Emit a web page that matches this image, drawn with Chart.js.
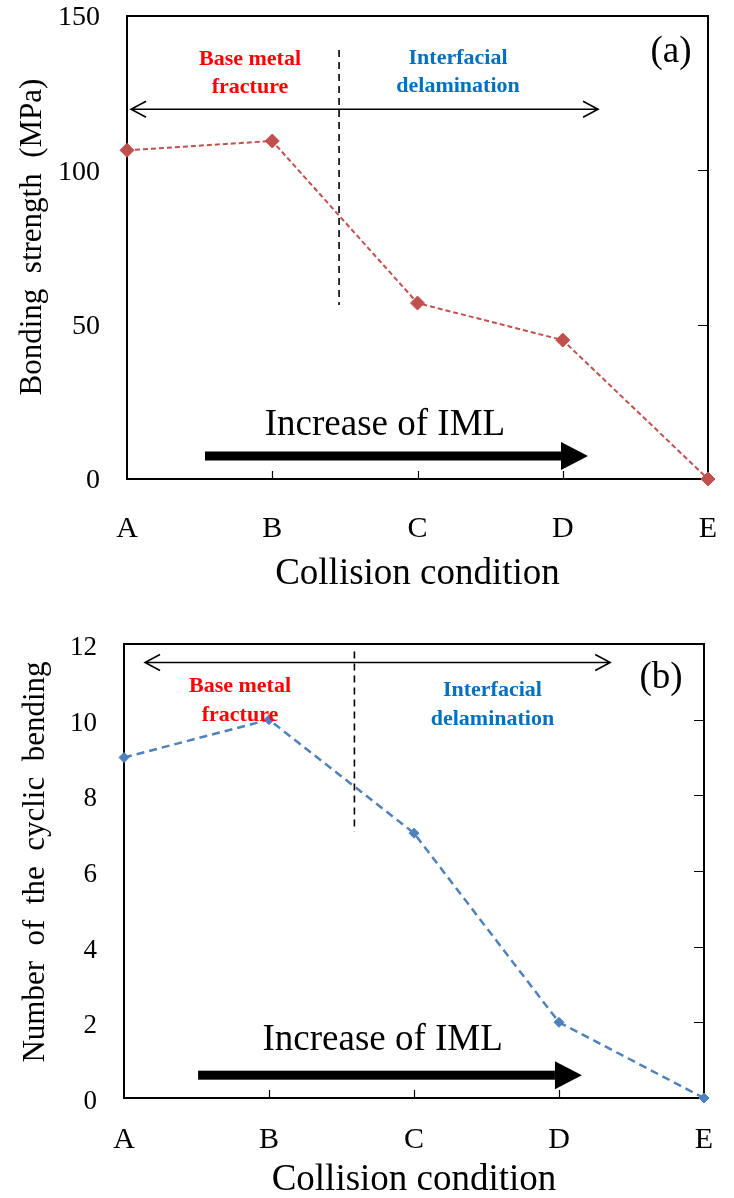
<!DOCTYPE html>
<html>
<head>
<meta charset="utf-8">
<script src="https://cdn.jsdelivr.net/npm/chart.js@4.4.0/dist/chart.umd.min.js"></script>
<style>
  html, body { margin: 0; padding: 0; background: #fff; }
  canvas { display: block; }
</style>
</head>
<body>
<canvas id="chartA" width="734" height="600"></canvas>
<canvas id="chartB" width="734" height="598"></canvas>
<script>
// values
const conditions = ['A', 'B', 'C', 'D', 'E'];
const bondingStrength = [106.5, 109.5, 57, 45, 0]; // MPa
const cyclicBending = [9, 10, 7, 2, 0];
const strengthTicks = [0, 50, 100, 150];
const bendingTicks = [0, 2, 4, 6, 8, 10, 12];

const SERIF = "'Liberation Serif', 'Times New Roman', serif";

// frame, inward ticks, arrows and the text notes (placed in axis units)
const decor = {
  id: 'decor',
  beforeDatasetsDraw(chart, args, o) {
    const { ctx, chartArea: a, scales: { x, y } } = chart;
    ctx.save();
    ctx.strokeStyle = '#000';
    ctx.lineWidth = 2;
    ctx.strokeRect(a.left, a.top, a.right - a.left, a.bottom - a.top);

    ctx.lineWidth = 1.2;
    ctx.beginPath();
    y.ticks.forEach(t => {
      if (t.value > y.min && t.value < y.max) {
        const py = Math.round(y.getPixelForValue(t.value)) + 0.5;
        ctx.moveTo(a.right, py);
        ctx.lineTo(a.right - 10, py);
      }
    });
    x.ticks.forEach((t, i) => {
      if (i > 0 && i < x.ticks.length - 1) {
        const px = Math.round(x.getPixelForValue(t.value)) + 0.5;
        ctx.moveTo(px, a.bottom);
        ctx.lineTo(px, a.bottom - 8);
      }
    });
    ctx.stroke();

    // dashed divider between the two failure modes
    const d = o.divider;
    ctx.setLineDash([7, 5]);
    ctx.lineWidth = 1.6;
    ctx.beginPath();
    ctx.moveTo(x.getPixelForValue(d.x), y.getPixelForValue(d.from));
    ctx.lineTo(x.getPixelForValue(d.x), y.getPixelForValue(d.to));
    ctx.stroke();
    ctx.setLineDash([]);

    // thin double arrow
    const r = o.range;
    const ry = y.getPixelForValue(r.y);
    const x0 = x.getPixelForValue(r.from), x1 = x.getPixelForValue(r.to);
    ctx.lineWidth = 1.6;
    ctx.beginPath();
    ctx.moveTo(x0, ry); ctx.lineTo(x1, ry);
    ctx.moveTo(x0 + 15, ry - 8); ctx.lineTo(x0, ry); ctx.lineTo(x0 + 15, ry + 8);
    ctx.moveTo(x1 - 15, ry - 8); ctx.lineTo(x1, ry); ctx.lineTo(x1 - 15, ry + 8);
    ctx.stroke();

    // thick trend arrow
    const tr = o.trend;
    const ty = y.getPixelForValue(tr.at);
    const t0 = x.getPixelForValue(tr.from), t1 = x.getPixelForValue(tr.to);
    ctx.fillStyle = '#000';
    ctx.fillRect(t0, ty - 4.5, t1 - 27 - t0, 9);
    ctx.beginPath();
    ctx.moveTo(t1 - 27, ty - 14);
    ctx.lineTo(t1, ty);
    ctx.lineTo(t1 - 27, ty + 14);
    ctx.closePath();
    ctx.fill();

    ctx.font = '37px ' + SERIF;
    ctx.textAlign = 'center';
    ctx.textBaseline = 'alphabetic';
    ctx.fillText(tr.text, x.getPixelForValue(tr.textX), y.getPixelForValue(tr.textY));

    // rotated y axis title
    ctx.save();
    ctx.translate(o.yTitle.x, o.yTitle.y);
    ctx.rotate(-Math.PI / 2);
    ctx.font = '31px ' + SERIF;
    ctx.textBaseline = 'middle';
    ctx.fillText(o.yTitle.text, 0, 0);
    ctx.restore();
    ctx.restore();
  },
  afterDatasetsDraw(chart, args, o) {
    const { ctx, scales: { x, y } } = chart;
    ctx.save();
    ctx.textAlign = 'center';
    ctx.textBaseline = 'alphabetic';
    ctx.font = 'bold 22px ' + SERIF;
    o.regions.forEach(reg => {
      ctx.fillStyle = reg.color;
      reg.lines.forEach((line, i) => {
        ctx.fillText(line, x.getPixelForValue(reg.x), y.getPixelForValue(reg.y[i]));
      });
    });
    ctx.fillStyle = '#000';
    ctx.font = '37px ' + SERIF;
    ctx.fillText(o.tag.text, x.getPixelForValue(o.tag.x), y.getPixelForValue(o.tag.y));
    ctx.restore();
  }
};

function makeChart(id, values, ticks, look, notes) {
  return new Chart(document.getElementById(id), {
    type: 'line',
    data: {
      labels: conditions,
      datasets: [{
        data: values,
        borderColor: look.color,
        backgroundColor: look.color,
        borderWidth: look.lineWidth,
        borderDash: look.dash,
        pointStyle: 'rectRot',
        pointRadius: look.radius,
        pointHoverRadius: look.radius,
        pointBorderWidth: 1,
        tension: 0,
        clip: false
      }]
    },
    options: {
      responsive: false,
      animation: false,
      devicePixelRatio: 1,
      layout: { padding: look.padding },
      plugins: {
        legend: { display: false },
        tooltip: { enabled: false },
        decor: notes
      },
      scales: {
        x: {
          grid: { display: false, drawTicks: false, tickLength: 0 },
          border: { display: false },
          ticks: {
            color: '#000',
            font: { family: SERIF, size: 30, lineHeight: 1 },
            padding: look.xPad,
            maxRotation: 0,
            autoSkip: false
          },
          title: {
            display: true,
            text: 'Collision condition',
            color: '#000',
            font: { family: SERIF, size: 37, lineHeight: 0.8 },
            padding: { top: 0, bottom: look.titlePad }
          },
          afterFit: s => {
            s.height = look.xHeight;
            s.paddingLeft = 0;
            s.paddingRight = 0;
          }
        },
        y: {
          min: 0,
          max: ticks[ticks.length - 1],
          afterBuildTicks: s => { s.ticks = ticks.map(v => ({ value: v })); },
          grid: { display: false, drawTicks: false, tickLength: 0 },
          border: { display: false },
          ticks: {
            color: '#000',
            font: { family: SERIF, size: look.yFont, lineHeight: 1 },
            padding: 27,
            labelOffset: look.yShift
          },
          afterFit: s => {
            s.width = look.yWidth;
            s.paddingTop = 0;
            s.paddingBottom = 0;
          }
        }
      }
    },
    plugins: [decor]
  });
}

makeChart('chartA', bondingStrength, strengthTicks, {
  color: '#C0504D', lineWidth: 2, dash: [5, 3], radius: 7,
  padding: { top: 16, right: 26, left: 0, bottom: 0 },
  yWidth: 127, xHeight: 121, xPad: 35, titlePad: 11, yFont: 28, yShift: 2
}, {
  yTitle: { text: 'Bonding  strength  (MPa)', x: 33, y: 237 },
  tag: { text: '(a)', x: 3.745, y: 135.2 },
  range: { y: 119.8, from: 0.028, to: 3.243 },
  divider: { x: 1.46, from: 139, to: 56.4 },
  regions: [
    { lines: ['Base metal', 'fracture'], color: '#FF0000', x: 0.847, y: [134.1, 125.0] },
    { lines: ['Interfacial', 'delamination'], color: '#0070C0', x: 2.279, y: [134.4, 125.4] }
  ],
  trend: { text: 'Increase of IML', textX: 1.776, textY: 14.3, from: 0.537, to: 3.174, at: 7.45 }
});

makeChart('chartB', cyclicBending, bendingTicks, {
  color: '#4F81BD', lineWidth: 2.5, dash: [8, 5], radius: 5,
  padding: { top: 44, right: 30, left: 0, bottom: 0 },
  yWidth: 124, xHeight: 100, xPad: 27, titlePad: 3, yFont: 27, yShift: 4
}, {
  yTitle: { text: 'Number  of  the  cyclic  bending', x: 36, y: 262 },
  tag: { text: '(b)', x: 3.704, y: 10.84 },
  range: { y: 11.51, from: 0.145, to: 3.353 },
  divider: { x: 1.589, from: 11.8, to: 7.04 },
  regions: [
    { lines: ['Base metal', 'fracture'], color: '#FF0000', x: 0.80, y: [10.72, 9.955] },
    { lines: ['Interfacial', 'delamination'], color: '#0070C0', x: 2.541, y: [10.63, 9.87] }
  ],
  trend: { text: 'Increase of IML', textX: 1.784, textY: 1.277, from: 0.511, to: 3.158, at: 0.603 }
});
</script>
</body>
</html>
